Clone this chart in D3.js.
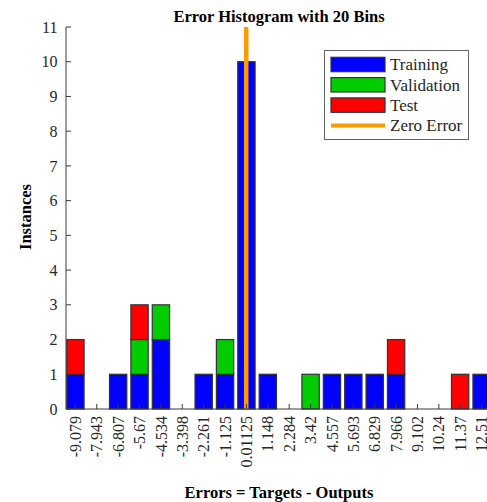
<!DOCTYPE html>
<html>
<head>
<meta charset="utf-8">
<script src="https://cdn.jsdelivr.net/npm/d3@7.9.0/dist/d3.min.js"></script>
<style>
  body { margin: 0; background: #fff; }
  svg { display: block; font-family: "Liberation Serif", "Times New Roman", serif; }
</style>
</head>
<body>
<div id="chart"></div>
<script>
// bin centres as printed on the x axis
const binLabels = ['-9.079', '-7.943', '-6.807', '-5.67', '-4.534', '-3.398', '-2.261', '-1.125', '0.01125',
    '1.148', '2.284', '3.42', '4.557', '5.693', '6.829', '7.966', '9.102', '10.24', '11.37', '12.51'];
const training   = [1, 0, 1, 1, 2, 0, 1, 1, 10, 1, 0, 0, 1, 1, 1, 1, 0, 0, 0, 1];
const validation = [0, 0, 0, 1, 1, 0, 0, 1, 0, 0, 0, 1, 0, 0, 0, 0, 0, 0, 0, 0];
const test       = [1, 0, 0, 1, 0, 0, 0, 0, 0, 0, 0, 0, 0, 0, 0, 1, 0, 0, 1, 0];
const yTicks = [0, 1, 2, 3, 4, 5, 6, 7, 8, 9, 10, 11];
const zeroError = 0;

const seriesNames = ['Training', 'Validation', 'Test'];
const colors = { Training: '#0000ff', Validation: '#00cc00', Test: '#ff0000' };
const zeroColor = '#ff9900';

const width = 487;
const height = 502;
const plot = { left: 66, right: 491, top: 27, bottom: 409 };

const centres = binLabels.map(Number);
const binW = (centres[centres.length - 1] - centres[0]) / (centres.length - 1);

const rows = binLabels.map((label, i) => ({
    label,
    centre: centres[i],
    Training: training[i],
    Validation: validation[i],
    Test: test[i],
}));

const x = d3.scaleLinear()
    .domain([centres[0] - binW * 0.44, centres[centres.length - 1] + binW * 0.44])
    .range([plot.left, plot.right]);

const y = d3.scaleLinear()
    .domain([0, 11])
    .range([plot.bottom, plot.top]);

const svg = d3.select('#chart')
    .append('svg')
    .attr('width', width)
    .attr('height', height);

const axisColor = '#3a3a3a';

// stacked bars
const stacked = d3.stack().keys(seriesNames)(rows);
const barW = x(binW * 0.81) - x(0);

svg.append('g')
    .selectAll('g')
    .data(stacked)
    .join('g')
    .attr('fill', (s) => colors[s.key])
    .selectAll('rect')
    .data((s) => s.filter((d) => d[1] - d[0] > 0))
    .join('rect')
    .attr('x', (d) => x(d.data.centre) - barW / 2)
    .attr('y', (d) => y(d[1]))
    .attr('width', barW)
    .attr('height', (d) => y(d[0]) - y(d[1]))
    .attr('stroke', '#333')
    .attr('stroke-width', 1.2);

// zero error line
svg.append('line')
    .attr('x1', x(zeroError))
    .attr('x2', x(zeroError))
    .attr('y1', y(11))
    .attr('y2', y(0))
    .attr('stroke', zeroColor)
    .attr('stroke-width', 4.5);

// y axis
const yAxis = svg.append('g').attr('transform', `translate(${plot.left},0)`);
yAxis.append('line')
    .attr('y1', plot.top).attr('y2', plot.bottom)
    .attr('stroke', axisColor);
yAxis.selectAll('.tick')
    .data(yTicks)
    .join('g')
    .attr('class', 'tick')
    .attr('transform', (d) => `translate(0,${y(d)})`)
    .call((g) => g.append('line').attr('x2', 5).attr('stroke', axisColor))
    .call((g) => g.append('text')
        .attr('x', -8.5)
        .attr('dy', '0.35em')
        .attr('text-anchor', 'end')
        .attr('font-size', 16)
        .attr('fill', '#262626')
        .text((d) => d));

// x axis
const xAxis = svg.append('g').attr('transform', `translate(0,${plot.bottom})`);
xAxis.append('line')
    .attr('x1', plot.left).attr('x2', plot.right)
    .attr('stroke', axisColor);
xAxis.selectAll('.tick')
    .data(rows)
    .join('g')
    .attr('class', 'tick')
    .attr('transform', (d) => `translate(${x(d.centre)},0)`)
    .call((g) => g.append('line').attr('y2', -5).attr('stroke', axisColor))
    .call((g) => g.append('text')
        .attr('transform', 'translate(0,7) rotate(-90)')
        .attr('dy', '0.35em')
        .attr('text-anchor', 'end')
        .attr('font-size', 16)
        .attr('fill', '#262626')
        .text((d) => d.label));

// titles
svg.append('text')
    .attr('x', 279)
    .attr('y', 22)
    .attr('text-anchor', 'middle')
    .attr('font-weight', 'bold')
    .attr('font-size', 16.5)
    .text('Error Histogram with 20 Bins');

svg.append('text')
    .attr('x', 279)
    .attr('y', 498)
    .attr('text-anchor', 'middle')
    .attr('font-weight', 'bold')
    .attr('font-size', 16.5)
    .text('Errors = Targets - Outputs');

svg.append('text')
    .attr('transform', 'translate(31,217) rotate(-90)')
    .attr('text-anchor', 'middle')
    .attr('font-weight', 'bold')
    .attr('font-size', 16.5)
    .text('Instances');

// legend
const legend = svg.append('g');
legend.append('rect')
    .attr('x', 324.5).attr('y', 50.5)
    .attr('width', 144).attr('height', 89)
    .attr('fill', '#fff')
    .attr('stroke', '#666');

const legendItems = [...seriesNames, 'Zero Error'];
const item = legend.selectAll('.item')
    .data(legendItems)
    .join('g')
    .attr('class', 'item')
    .attr('transform', (d, i) => `translate(331,${64.5 + i * 20.3})`);

item.filter((d) => d !== 'Zero Error')
    .append('rect')
    .attr('x', 0).attr('y', -7.2)
    .attr('width', 54).attr('height', 14.4)
    .attr('fill', (d) => colors[d])
    .attr('stroke', '#333')
    .attr('stroke-width', 1.2);

item.filter((d) => d === 'Zero Error')
    .append('line')
    .attr('x1', 0).attr('x2', 54)
    .attr('stroke', zeroColor)
    .attr('stroke-width', 4);

item.append('text')
    .attr('x', 59)
    .attr('dy', '0.35em')
    .attr('font-size', 17)
    .attr('fill', '#262626')
    .text((d) => d);
</script>
</body>
</html>
